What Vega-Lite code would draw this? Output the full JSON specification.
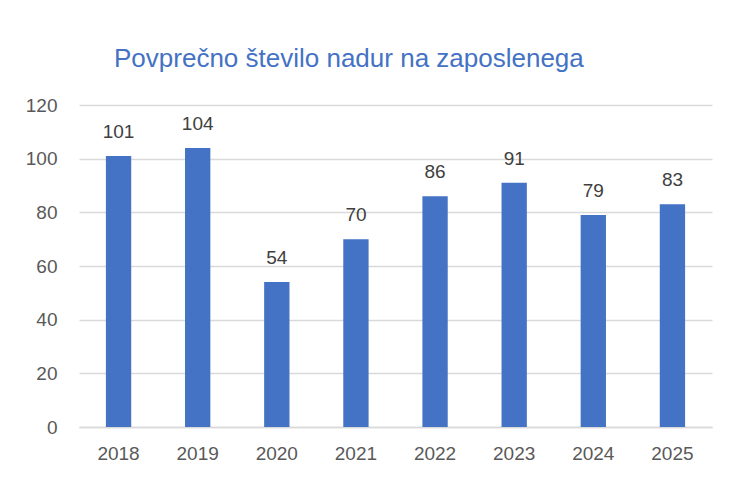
{
  "$schema": "https://vega.github.io/schema/vega-lite/v6.json",
  "autosize": "none",
  "width": 633,
  "height": 322,
  "padding": {"left": 79, "top": 105, "right": 17, "bottom": 53},
  "background": "white",
  "data": {"values": [
    {"year": "2018", "value": 101},
    {"year": "2019", "value": 104},
    {"year": "2020", "value": 54},
    {"year": "2021", "value": 70},
    {"year": "2022", "value": 86},
    {"year": "2023", "value": 91},
    {"year": "2024", "value": 79},
    {"year": "2025", "value": 83}
  ]},
  "title": {
    "text": "Povprečno število nadur na zaposlenega",
    "anchor": "start",
    "frame": "group",
    "dx": 35,
    "offset": 3,
    "baseline": "alphabetic",
    "font": "Liberation Sans",
    "fontSize": 26,
    "fontWeight": "normal",
    "color": "#4472C4"
  },
  "config": {
    "view": {"stroke": null},
    "font": "Liberation Sans"
  },
  "encoding": {
    "x": {
      "field": "year", "type": "ordinal",
      "scale": {"paddingInner": 0.68, "paddingOuter": 0.34},
      "axis": {
        "title": null, "labelAngle": 0, "ticks": false,
        "domainColor": "#D9D9D9", "domainWidth": 1.5,
        "labelFont": "Liberation Sans", "labelFontSize": 19, "labelColor": "#595959",
        "labelPadding": 17
      }
    },
    "y": {
      "field": "value", "type": "quantitative",
      "scale": {"domain": [0, 120]},
      "axis": {
        "title": null, "values": [0, 20, 40, 60, 80, 100, 120],
        "labelOverlap": false,
        "ticks": false, "domain": false,
        "gridColor": "#D9D9D9", "gridWidth": 1.5,
        "labelFont": "Liberation Sans", "labelFontSize": 19, "labelColor": "#595959",
        "labelPadding": 22
      }
    }
  },
  "layer": [
    {"mark": {"type": "bar", "color": "#4472C4"}},
    {
      "mark": {"type": "text", "baseline": "alphabetic", "dy": -18, "font": "Liberation Sans", "fontSize": 19, "color": "#404040"},
      "encoding": {"text": {"field": "value", "type": "quantitative"}}
    }
  ]
}
